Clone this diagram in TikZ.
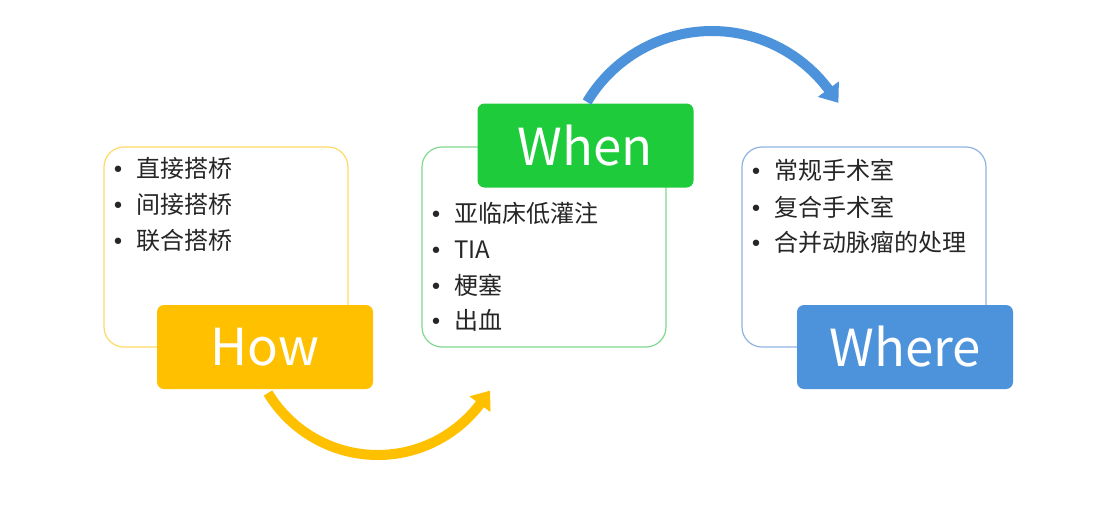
\documentclass[tikz,border=0pt]{standalone}
\usepackage{fontspec}
\setmainfont{Noto Sans CJK SC}
\newfontfamily\bulfont{DejaVu Sans}
\usetikzlibrary{arrows.meta}
\definecolor{yel}{HTML}{FFC000}
\definecolor{yelL}{HTML}{FFD966}
\definecolor{grn}{HTML}{1ECB3B}
\definecolor{grnL}{HTML}{80D98C}
\definecolor{blu}{HTML}{4D93DB}
\definecolor{bluL}{HTML}{8DB4E2}
\definecolor{txt}{HTML}{262626}
\begin{document}
\begin{tikzpicture}[x=1pt,y=-1pt,
  outerbox/.style={draw=#1, line width=1.2pt, rounded corners=20pt, fill=white,
    minimum width=244pt, minimum height=200pt, inner sep=0pt},
  labelbox/.style={fill=#1, rounded corners=7pt, text=white, inner sep=0pt,
    minimum width=216pt, minimum height=84pt, font=\fontsize{51}{60}\selectfont},
  item/.style={anchor=base west, inner sep=0pt, text=txt, font=\fontsize{24}{28}\selectfont},
  flow/.style={line width=10pt, -{Triangle[width=25pt,length=17pt]}}]
\useasboundingbox (0,0) rectangle (1105,520);
\fill[white] (0,0) rectangle (1105,520);
\newcommand{\bul}{\llap{\makebox[36pt][c]{\bulfont\fontsize{22}{26}\selectfont •}}}
% How
\node (hbox) [outerbox=yelL] at (226,247) {};
\node (h1) [item] at (136,177) {\bul 直接搭桥};
\node (h2) [item] at (136,213) {\bul 间接搭桥};
\node (h3) [item] at (136,249) {\bul 联合搭桥};
\node (hlab) [labelbox=yel] at (265,347) {How};
% When
\node (nbox) [outerbox=grnL] at (544,247) {};
\node (n1) [item] at (454,222) {\bul 亚临床低灌注};
\node (n2) [item] at (454,258) {\bul TIA};
\node (n3) [item] at (454,294) {\bul 梗塞};
\node (n4) [item] at (454,329) {\bul 出血};
\node (nlab) [labelbox=grn] at (585.5,145.5) {When};
% Where
\node (rbox) [outerbox=bluL] at (864,247) {};
\node (r1) [item] at (774,179) {\bul 常规手术室};
\node (r2) [item] at (774,216) {\bul 复合手术室};
\node (r3) [item] at (774,251) {\bul 合并动脉瘤的处理};
\node (rlab) [labelbox=blu] at (905,347) {Where};
% arrows
\coordinate (ys) at (268,393);
\coordinate (bs) at (587,102);
\draw[flow, draw=yel] (ys) arc[start angle=211.1, end angle=323.3, radius=128.2pt] -- ++(9.6,-12.8);
\draw[flow, draw=blu] (bs) arc[start angle=149.2, end angle=36.5, radius=145.5pt] -- ++(9.5,12.9);
\end{tikzpicture}
\end{document}
